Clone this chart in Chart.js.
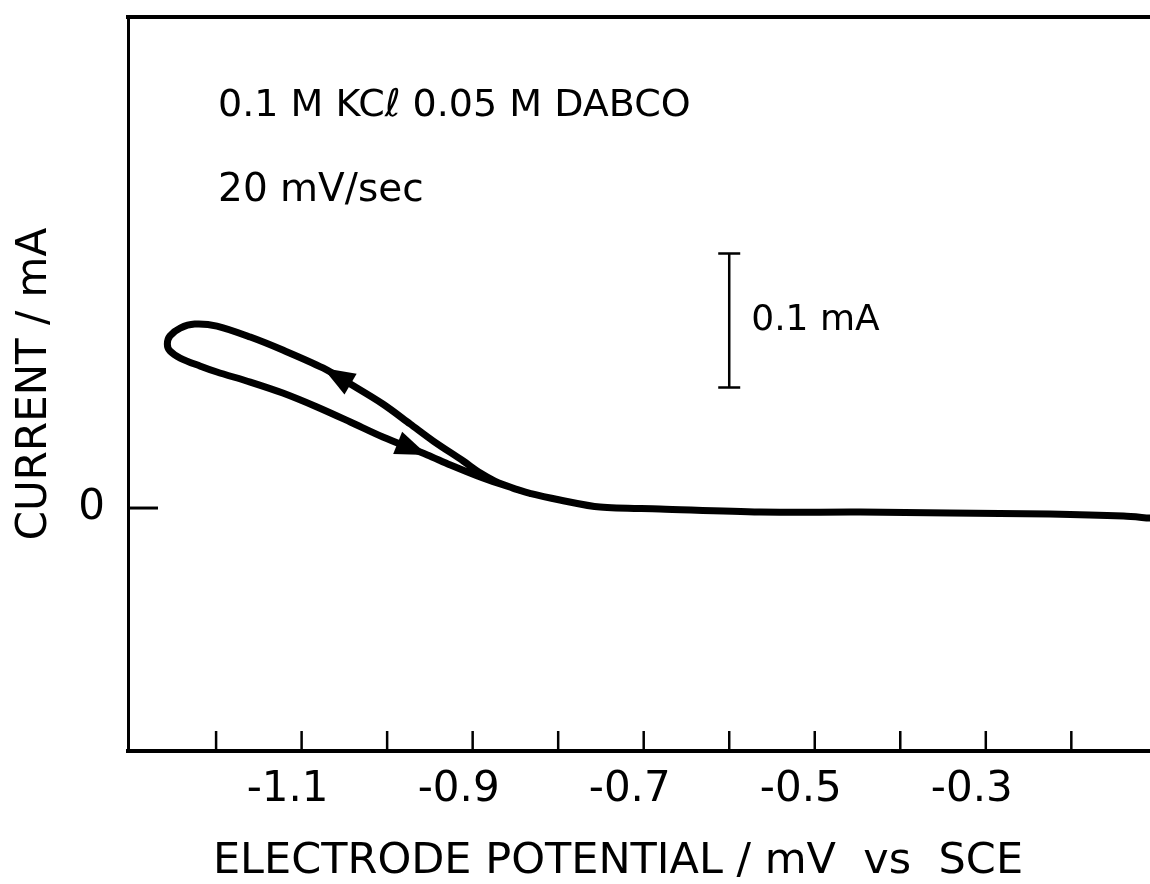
<!DOCTYPE html>
<html lang="en">
<head>
<meta charset="UTF-8">
<title>Cyclic voltammogram - DABCO</title>
<script src="https://cdn.jsdelivr.net/npm/chart.js"></script>
<style>
    body {
        margin: 0;
        background: #fff;
    }
    #wrap {
        width: 1150px;
        height: 884px;
    }
</style>
</head>
<body>
<div id="wrap"><canvas id="cv" width="1150" height="884"></canvas></div>
<script>
// trace starts at the anodic end, sweeps cathodic along the upper branch,
// turns at about -1.26 and comes back along the lower branch
const potential = [
    -0.108, -0.139, -0.225, -0.342, -0.447, -0.564, -0.681, -0.751, -0.798, -0.833, -0.853,
    -0.874, -0.891, -0.911, -0.946, -0.973, -1.005, -1.043, -1.075, -1.122, -1.160, -1.199, -1.225, -1.242, -1.254, -1.257,
    -1.254, -1.242, -1.219, -1.199, -1.160, -1.122, -1.082, -1.043, -1.005, -0.953, -0.926, -0.888, -0.853, -0.833
];
const current = [
    -0.0075, -0.0060, -0.0045, -0.0037, -0.0030, -0.0030, -0.0007, 0.0007, 0.0060, 0.0109, 0.0149,
    0.0201, 0.0261, 0.0351, 0.0500, 0.0627, 0.0776, 0.0925, 0.1045, 0.1179, 0.1276, 0.1358, 0.1373, 0.1343, 0.1284, 0.1224,
    0.1172, 0.1119, 0.1060, 0.1015, 0.0940, 0.0858, 0.0754, 0.0642, 0.0530, 0.0396, 0.0321, 0.0224, 0.0149, 0.0109
];
// points of the trace that carry a direction arrow
const arrowAt = [18, 35];

const xTickValues = [-1.2, -1.1, -1.0, -0.9, -0.8, -0.7, -0.6, -0.5, -0.4, -0.3, -0.2];
const xTickLabels = ['-1.1', '-0.9', '-0.7', '-0.5', '-0.3'];
const yTickValues = [0];
const yTickLabels = ['0'];

const FONT = "'DejaVu Sans', sans-serif";

const decorations = {
    id: 'decorations',
    afterDraw(chart) {
        const { ctx, chartArea: a, scales: { x, y } } = chart;
        ctx.save();
        ctx.strokeStyle = '#000';
        ctx.fillStyle = '#000';

        // top edge of the frame
        ctx.lineWidth = 4;
        ctx.beginPath();
        ctx.moveTo(a.left - 2, a.top);
        ctx.lineTo(a.right, a.top);
        ctx.stroke();

        // tick marks point into the plot
        ctx.lineWidth = 2.5;
        x.ticks.forEach(t => {
            const px = x.getPixelForValue(t.value);
            ctx.beginPath();
            ctx.moveTo(px, a.bottom);
            ctx.lineTo(px, a.bottom - 20);
            ctx.stroke();
        });
        ctx.lineWidth = 3;
        y.ticks.forEach(t => {
            const py = y.getPixelForValue(t.value);
            ctx.beginPath();
            ctx.moveTo(a.left, py);
            ctx.lineTo(a.left + 30, py);
            ctx.stroke();
        });

        // 0.1 mA scale bar
        const bx = x.getPixelForValue(-0.6);
        const b0 = y.getPixelForValue(0.09);
        const b1 = y.getPixelForValue(0.19);
        ctx.lineWidth = 2.5;
        ctx.beginPath();
        ctx.moveTo(bx, b0); ctx.lineTo(bx, b1);
        ctx.moveTo(bx - 11, b0); ctx.lineTo(bx + 11, b0);
        ctx.moveTo(bx - 11, b1); ctx.lineTo(bx + 11, b1);
        ctx.stroke();
        ctx.font = `36px ${FONT}`;
        ctx.textAlign = 'left';
        ctx.textBaseline = 'middle';
        ctx.fillText('0.1 mA', bx + 22, (b0 + b1) / 2);

        // conditions
        ctx.font = `38px ${FONT}`;
        ctx.fillText('0.1 M KCℓ 0.05 M DABCO', x.getPixelForValue(-1.2) + 2, y.getPixelForValue(0.300));
        ctx.font = `39px ${FONT}`;
        ctx.fillText('20 mV/sec', x.getPixelForValue(-1.2) + 2, y.getPixelForValue(0.237));

        // x axis title
        ctx.font = `43px ${FONT}`;
        ctx.textAlign = 'center';
        ctx.fillText('ELECTRODE POTENTIAL / mV  vs  SCE', a.left + 490, 862);

        // sweep direction arrows
        arrowAt.forEach(i => {
            const tx = x.getPixelForValue(potential[i]);
            const ty = y.getPixelForValue(current[i]);
            const fx = x.getPixelForValue(potential[i - 1]);
            const fy = y.getPixelForValue(current[i - 1]);
            const ang = Math.atan2(ty - fy, tx - fx);
            const len = 32, half = 12;
            const cx = tx - len * Math.cos(ang), cy = ty - len * Math.sin(ang);
            ctx.beginPath();
            ctx.moveTo(tx, ty);
            ctx.lineTo(cx + half * Math.sin(ang), cy - half * Math.cos(ang));
            ctx.lineTo(cx - half * Math.sin(ang), cy + half * Math.cos(ang));
            ctx.closePath();
            ctx.fill();
        });
        ctx.restore();
    }
};

new Chart(document.getElementById('cv'), {
    type: 'scatter',
    data: {
        datasets: [{
            data: potential.map((v, i) => ({ x: v, y: current[i] })),
            showLine: true,
            borderColor: '#000',
            borderWidth: 7,
            pointRadius: 0,
            tension: 0.3,
            borderCapStyle: 'round',
            borderJoinStyle: 'round'
        }]
    },
    options: {
        responsive: false,
        animation: false,
        events: [],
        layout: { padding: { top: 17, right: 0, left: 0, bottom: 0 } },
        plugins: {
            legend: { display: false },
            tooltip: { enabled: false }
        },
        scales: {
            x: {
                type: 'linear',
                min: -1.303,
                max: -0.108,
                afterBuildTicks: s => { s.ticks = xTickValues.map(v => ({ value: v })); },
                afterFit: s => { s.height = 133; s.paddingLeft = 0; s.paddingRight = 0; },
                grid: { display: false, drawTicks: false },
                border: { display: true, color: '#000', width: 4 },
                ticks: {
                    color: '#000',
                    font: { family: FONT, size: 42 },
                    padding: 14,
                    labelOffset: -14,
                    autoSkip: false,
                    maxRotation: 0,
                    callback: v => xTickLabels.find(l => Math.abs(parseFloat(l) - v) < 1e-6) || ''
                }
            },
            y: {
                type: 'linear',
                min: -0.1813,
                max: 0.3664,
                afterBuildTicks: s => { s.ticks = yTickValues.map(v => ({ value: v })); },
                afterFit: s => { s.width = 128; s.paddingTop = 0; s.paddingBottom = 0; },
                grid: { display: false, drawTicks: false },
                border: { display: true, color: '#000', width: 3 },
                ticks: {
                    color: '#000',
                    font: { family: FONT, size: 42 },
                    padding: 23,
                    callback: (v, i) => yTickLabels[i]
                },
                title: {
                    display: true,
                    text: 'CURRENT / mA',
                    color: '#000',
                    font: { family: FONT, size: 42 },
                    padding: { top: 10, bottom: 0 }
                }
            }
        }
    },
    plugins: [decorations]
});
</script>
</body>
</html>
